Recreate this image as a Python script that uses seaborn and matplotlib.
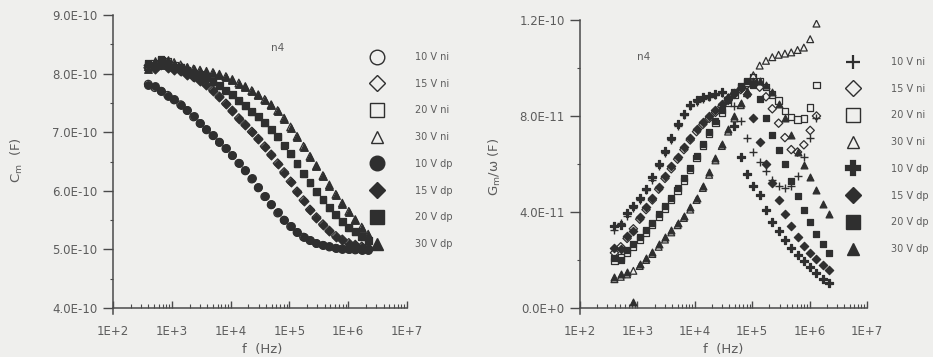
import numpy as np
import pandas as pd
import matplotlib
matplotlib.use("Agg")
import matplotlib.pyplot as plt
from matplotlib.lines import Line2D
from matplotlib.ticker import FixedLocator, FixedFormatter, LogLocator, NullFormatter
import seaborn as sns

# Measurement frequencies (Hz)
freq_hz = [398, 513, 661, 851, 1096, 1413, 1820, 2344, 3020, 3890, 5012, 6457,
           8318, 10715, 13804, 17783, 22909, 29512, 38019, 48978, 63096, 81283,
           104713, 134896, 173780, 223872, 288403, 371535, 478630, 616595,
           794328, 1023293, 1318257, 1698244, 2187762]

series_labels = ["10 V ni", "15 V ni", "20 V ni", "30 V ni",
                 "10 V dp", "15 V dp", "20 V dp", "30 V dp"]

# Measured capacitance C_m, in units of 1E-10 F
cm_10v_ni = [7.82, 7.76, 7.70, 7.63, 7.55, 7.47, 7.37, 7.26, 7.15, 7.04, 6.94, 6.83,
             6.72, 6.60, 6.47, 6.34, 6.20, 6.05, 5.90, 5.76, 5.62, 5.50, 5.39, 5.29,
             5.21, 5.15, 5.10, 5.07, 5.04, 5.02, 5.01, 5.00, 4.99, 4.99, 4.99]
cm_15v_ni = [8.10, 8.12, 8.14, 8.12, 8.08, 8.04, 7.99, 7.94, 7.89, 7.81, 7.72, 7.61,
             7.49, 7.37, 7.24, 7.13, 7.01, 6.89, 6.76, 6.62, 6.47, 6.32, 6.16, 5.99,
             5.84, 5.68, 5.55, 5.43, 5.32, 5.23, 5.17, 5.11, 5.08, 5.05, 5.03]
cm_20v_ni = [8.14, 8.18, 8.22, 8.20, 8.14, 8.10, 8.05, 8.01, 7.98, 7.93, 7.87, 7.80,
             7.72, 7.64, 7.54, 7.46, 7.36, 7.27, 7.16, 7.05, 6.92, 6.78, 6.63, 6.46,
             6.30, 6.14, 5.99, 5.85, 5.71, 5.59, 5.48, 5.38, 5.30, 5.22, 5.15]
cm_30v_ni = [8.12, 8.16, 8.18, 8.20, 8.19, 8.15, 8.10, 8.08, 8.06, 8.04, 8.02, 7.99,
             7.95, 7.90, 7.84, 7.78, 7.71, 7.64, 7.56, 7.47, 7.37, 7.24, 7.09, 6.93,
             6.76, 6.59, 6.43, 6.26, 6.10, 5.94, 5.79, 5.65, 5.51, 5.38, 5.26]
cm_10v_dp = [7.80, 7.78, 7.71, 7.61, 7.56, 7.46, 7.38, 7.27, 7.16, 7.05, 6.95, 6.84,
             6.73, 6.61, 6.48, 6.35, 6.21, 6.06, 5.91, 5.77, 5.63, 5.51, 5.40, 5.30,
             5.22, 5.16, 5.11, 5.07, 5.05, 5.03, 5.01, 5.00, 5.00, 4.99, 4.99]
cm_15v_dp = [8.14, 8.08, 8.17, 8.10, 8.06, 8.05, 7.98, 7.95, 7.88, 7.80, 7.71, 7.60,
             7.48, 7.36, 7.23, 7.12, 7.00, 6.88, 6.75, 6.61, 6.46, 6.31, 6.15, 5.98,
             5.83, 5.67, 5.54, 5.42, 5.31, 5.22, 5.16, 5.10, 5.07, 5.04, 5.02]
cm_20v_dp = [8.18, 8.12, 8.25, 8.16, 8.12, 8.11, 8.03, 8.00, 7.96, 7.92, 7.86, 7.79,
             7.71, 7.63, 7.53, 7.45, 7.35, 7.26, 7.15, 7.04, 6.91, 6.77, 6.62, 6.45,
             6.29, 6.13, 5.98, 5.84, 5.70, 5.58, 5.47, 5.37, 5.29, 5.21, 5.14]
cm_30v_dp = [8.08, 8.22, 8.15, 8.24, 8.17, 8.13, 8.11, 8.07, 8.05, 8.03, 8.01, 7.98,
             7.94, 7.89, 7.83, 7.77, 7.70, 7.63, 7.55, 7.46, 7.36, 7.23, 7.08, 6.92,
             6.75, 6.58, 6.42, 6.25, 6.09, 5.93, 5.78, 5.64, 5.50, 5.37, 5.25]

nan = np.nan
# Measured G_m/omega, in units of 1E-11 F
gw_10v_ni = [3.25, 3.55, 3.85, 4.15, 4.50, 4.90, 5.35, 5.90, 6.45, 7.00, 7.60, 8.05,
             8.40, 8.60, 8.72, 8.80, 8.88, 8.95, 8.80, 8.40, 7.80, 7.10, 6.50, 6.10,
             5.70, 5.35, 5.10, 5.00, 5.10, 5.50, 6.30, 7.10, 7.90, nan, nan]
gw_15v_ni = [2.30, 2.55, 2.90, 3.30, 3.70, 4.10, 4.50, 4.95, 5.40, 5.80, 6.20, 6.60,
             7.00, 7.35, 7.65, 7.90, 8.15, 8.40, 8.65, 8.90, 9.10, 9.30, 9.40, 9.20,
             8.80, 8.30, 7.70, 7.10, 6.60, 6.50, 6.80, 7.40, 8.00, nan, nan]
gw_20v_ni = [1.95, 2.10, 2.30, 2.55, 2.85, 3.15, 3.45, 3.80, 4.15, 4.50, 4.90, 5.30,
             5.75, 6.25, 6.75, 7.25, 7.70, 8.15, 8.55, 8.90, 9.20, 9.40, 9.60, 9.45,
             9.20, 8.90, 8.65, 8.20, 7.95, 7.85, 7.90, 8.35, 9.30, nan, nan]
gw_30v_ni = [1.20, 1.30, 1.40, 1.55, 1.75, 2.00, 2.25, 2.55, 2.85, 3.15, 3.45, 3.75,
             4.10, 4.50, 5.00, 5.55, 6.15, 6.75, 7.35, 7.90, 8.45, 8.95, 9.70, 10.10,
             10.30, 10.45, 10.55, 10.60, 10.65, 10.75, 10.85, 11.20, 11.85, nan, nan]
gw_10v_dp = [3.40, 3.45, 3.95, 4.25, 4.60, 4.95, 5.45, 6.00, 6.55, 7.10, 7.65, 8.10,
             8.45, 8.65, 8.78, 8.85, 8.92, 8.98, 8.75, 7.60, 6.30, 5.60, 5.10, 4.70,
             4.10, 3.60, 3.20, 2.85, 2.50, 2.20, 1.95, 1.70, 1.45, 1.22, 1.03]
gw_15v_dp = [2.50, 2.45, 3.00, 3.20, 3.80, 4.20, 4.60, 5.05, 5.50, 5.90, 6.30, 6.70,
             7.10, 7.45, 7.75, 8.00, 8.25, 8.50, 8.75, 8.95, 9.15, 8.90, 7.90, 6.90,
             6.00, 5.20, 4.50, 3.90, 3.40, 2.95, 2.60, 2.30, 2.05, 1.80, 1.58]
gw_20v_dp = [2.10, 2.00, 2.40, 2.65, 2.95, 3.25, 3.55, 3.90, 4.25, 4.60, 5.00, 5.40,
             5.85, 6.35, 6.85, 7.35, 7.80, 8.25, 8.65, 9.00, 9.25, 9.45, 9.30, 8.70,
             7.90, 7.20, 6.60, 6.00, 5.30, 4.65, 4.10, 3.60, 3.10, 2.65, 2.28]
gw_30v_dp = [1.30, 1.40, 1.50, 0.25, 1.85, 2.10, 2.35, 2.65, 2.95, 3.25, 3.55, 3.85,
             4.20, 4.60, 5.10, 5.65, 6.25, 6.85, 7.45, 8.00, 8.55, 9.05, 9.40, 9.45,
             9.30, 9.00, 8.50, 7.90, 7.20, 6.50, 5.95, 5.45, 4.90, 4.35, 3.90]

cm_series = [cm_10v_ni, cm_15v_ni, cm_20v_ni, cm_30v_ni,
             cm_10v_dp, cm_15v_dp, cm_20v_dp, cm_30v_dp]
gw_series = [gw_10v_ni, gw_15v_ni, gw_20v_ni, gw_30v_ni,
             gw_10v_dp, gw_15v_dp, gw_20v_dp, gw_30v_dp]

cm_ticks = ["4.0E-10", "5.0E-10", "6.0E-10", "7.0E-10", "8.0E-10", "9.0E-10"]
gw_ticks = ["0.0E+0", "4.0E-11", "8.0E-11", "1.2E-10"]
freq_ticks = ["1E+2", "1E+3", "1E+4", "1E+5", "1E+6", "1E+7"]

INK = "#2f2f2f"
TEXT = "#5c5c5c"
PAPER = "#efefed"

# marker, filled, scatter size, legend size
left_styles = [("o", False, 30, 10.5), ("D", False, 20, 8.5), ("s", False, 24, 10.5), ("^", False, 30, 8.5),
               ("o", True, 30, 10.5), ("D", True, 20, 8.5), ("s", True, 24, 10.5), ("^", True, 30, 8.5)]
right_styles = [("+", False, 34, 10.5), ("D", False, 18, 8.5), ("s", False, 20, 10.5), ("^", False, 24, 8.5),
                ("P", True, 32, 10.5), ("D", True, 18, 8.5), ("s", True, 20, 10.5), ("^", True, 24, 8.5)]

sns.set_theme(style="ticks")
plt.rcParams["font.family"] = ["DejaVu Sans"]

fig = plt.figure(figsize=(9.33, 3.57), dpi=100)
fig.patch.set_facecolor(PAPER)

ax_c = fig.add_axes([113 / 933, 49 / 357, 294 / 933, 293 / 357])
ax_g = fig.add_axes([580 / 933, 49 / 357, 287 / 933, 288 / 357])


def draw_panel(ax, series, unit, styles):
    for label, vals, (mk, filled, size, _) in zip(series_labels, series, styles):
        df = pd.DataFrame({"f": freq_hz, "v": np.array(vals, dtype=float) * unit}).dropna()
        if mk == "+":
            sns.scatterplot(data=df, x="f", y="v", marker=mk, s=size, color=INK,
                            linewidth=1.0, ax=ax, legend=False, zorder=3)
        else:
            sns.scatterplot(data=df, x="f", y="v", marker=mk, s=size,
                            facecolor=INK if filled else "none", edgecolor=INK,
                            linewidth=0.9, ax=ax, legend=False, zorder=3)


draw_panel(ax_c, cm_series, 1e-10, left_styles)
draw_panel(ax_g, gw_series, 1e-11, right_styles)


def style_axes(ax, ylim, yt_major, yt_minor, ytick_labels):
    ax.set_facecolor(PAPER)
    ax.set_xscale("log")
    ax.set_xlim(1e2, 1e7)
    ax.set_ylim(*ylim)
    for side in ("top", "right"):
        ax.spines[side].set_visible(False)
    for side in ("left", "bottom"):
        ax.spines[side].set_color("#4a4a4a")
        ax.spines[side].set_linewidth(1.1)
    span = ylim[1] - ylim[0]
    ax.spines["left"].set_bounds(ylim[0] - 0.02 * span, ylim[1])
    ax.xaxis.set_major_locator(FixedLocator([1e2, 1e3, 1e4, 1e5, 1e6, 1e7]))
    ax.xaxis.set_major_formatter(FixedFormatter(freq_ticks))
    ax.xaxis.set_minor_locator(LogLocator(base=10, subs=np.arange(2, 10), numticks=20))
    ax.xaxis.set_minor_formatter(NullFormatter())
    ax.yaxis.set_major_locator(FixedLocator(yt_major))
    ax.yaxis.set_major_formatter(FixedFormatter(ytick_labels))
    ax.yaxis.set_minor_locator(FixedLocator(yt_minor))
    ax.tick_params(axis="x", which="major", direction="in", length=5, width=1.0,
                   color="#4a4a4a", pad=12, labelsize=8.5, labelcolor=TEXT)
    ax.tick_params(axis="x", which="minor", direction="in", length=3, width=0.8,
                   color="#4a4a4a")
    ax.tick_params(axis="y", which="major", direction="out", length=7.5, width=1.0,
                   color="#4a4a4a", pad=3.5, labelsize=8.5, labelcolor=TEXT)
    ax.tick_params(axis="y", which="minor", direction="out", length=2.5, width=0.8,
                   color="#4a4a4a")
    ax.set_xlabel("f  (Hz)", fontsize=9.5, color=TEXT)
    ax.grid(False)


style_axes(ax_c, (4e-10, 9e-10), [4e-10, 5e-10, 6e-10, 7e-10, 8e-10, 9e-10],
           [4.5e-10, 5.5e-10, 6.5e-10, 7.5e-10, 8.5e-10], cm_ticks)
style_axes(ax_g, (0, 1.2e-10), [0, 4e-11, 8e-11, 1.2e-10],
           [2e-11, 6e-11, 1e-10], gw_ticks)

ax_c.set_ylabel(r"C$_\mathregular{m}$  (F)", fontsize=9.5, color=TEXT)
ax_g.set_ylabel(r"G$_\mathregular{m}$/ω (F)", fontsize=9.5, color=TEXT)
ax_c.yaxis.set_label_coords(-0.30, 0.505)
ax_g.yaxis.set_label_coords(-0.268, 0.49)
ax_c.xaxis.set_label_coords(0.507, -0.12)
ax_g.xaxis.set_label_coords(0.498, -0.12)

ax_c.text(0.561, 0.887, "n4", transform=ax_c.transAxes, fontsize=7.5,
          color=TEXT, ha="center", va="center")
ax_g.text(0.22, 0.872, "n4", transform=ax_g.transAxes, fontsize=7.5,
          color=TEXT, ha="center", va="center")


def add_key(ax, styles, anchor):
    handles = []
    for mk, filled, _, ms in styles:
        handles.append(Line2D([], [], ls="", marker=mk, ms=ms,
                              mfc=INK if filled else "none", mec=INK,
                              mew=1.0 if mk not in "+P" else 1.6, color=INK))
    ax.legend(handles, series_labels, loc="upper left", bbox_to_anchor=anchor,
              bbox_transform=fig.transFigure, frameon=False, fontsize=7,
              labelcolor=TEXT, handlelength=1.0, handletextpad=3.4,
              labelspacing=1.72, borderpad=0, borderaxespad=0)


add_key(ax_c, left_styles, ((377 - 5) / 933, 1 - 52 / 357))
add_key(ax_g, right_styles, ((853 - 5) / 933, 1 - 57 / 357))

fig.savefig("out.png", dpi=100, facecolor=PAPER)
